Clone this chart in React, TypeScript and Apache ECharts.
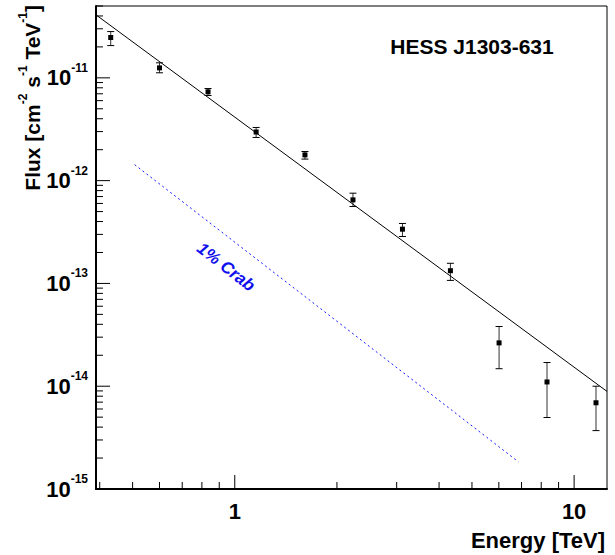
import React, { useEffect, useRef } from "react";
import * as echarts from "echarts";

// ---- data ----
const energies = [0.431, 0.60, 0.834, 1.156, 1.61, 2.23, 3.12, 4.32, 6.01, 8.32, 11.6];
const flux = [2.47e-11, 1.25e-11, 7.31e-12, 2.98e-12, 1.78e-12, 6.5e-13, 3.37e-13, 1.33e-13, 2.64e-14, 1.1e-14, 6.9e-15];
const fluxHi = [2.82e-11, 1.4e-11, 7.87e-12, 3.29e-12, 1.92e-12, 7.55e-13, 3.83e-13, 1.57e-13, 3.81e-14, 1.7e-14, 1.0e-14];
const fluxLo = [2.06e-11, 1.12e-11, 6.73e-12, 2.63e-12, 1.62e-12, 5.6e-13, 2.86e-13, 1.07e-13, 1.48e-14, 4.96e-15, 3.7e-15];

const fitE = [0.39, 12.5];
const fitF = [4.1e-11, 8.9e-15];

const crabE = [0.507, 6.85];
const crabF = [1.43e-12, 1.84e-15];

const xMajorTicks = [1, 10];
const xMinorTicks = [0.4, 0.5, 0.6, 0.7, 0.8, 0.9, 2, 3, 4, 5, 6, 7, 8, 9];
const yMajorTicks = [1e-15, 1e-14, 1e-13, 1e-12, 1e-11];
const yMinorMultipliers = [2, 3, 4, 5, 6, 7, 8, 9];
const yMinorTicks = [
  ...yMajorTicks.flatMap((d) => yMinorMultipliers.map((m) => m * d)),
].filter((v) => v < 5e-11);

const xTickLabels = ["1", "10"];

const X_MIN = 0.39;
const X_MAX = 12.5;
const Y_MIN = 1e-15;
const Y_MAX = 5e-11;

const FONT = "'Liberation Sans', Arial, Helvetica, sans-serif";

export default function App() {
  const ref = useRef<HTMLDivElement>(null);

  useEffect(() => {
    if (!ref.current) return;
    const chart = echarts.init(ref.current, null, { renderer: "svg" });

    const isPow10 = (v: number) => {
      const l = Math.log10(v);
      return Math.abs(l - Math.round(l)) < 1e-6;
    };

    const tickSeries = (name: string, values: number[], axis: "x" | "y", len: number) => ({
      type: "custom",
      name,
      silent: true,
      clip: false,
      data: values.map((v) => (axis === "x" ? [v, Y_MIN] : [X_MIN, v])),
      renderItem: (_p: any, api: any) => {
        const p = api.coord([api.value(0), api.value(1)]);
        return {
          type: "line",
          shape:
            axis === "x"
              ? { x1: p[0], y1: p[1], x2: p[0], y2: p[1] - len }
              : { x1: p[0], y1: p[1], x2: p[0] + len, y2: p[1] },
          style: { stroke: "#000", lineWidth: 1 },
        };
      },
    });

    const option: any = {
      animation: false,
      textStyle: { fontFamily: FONT },
      grid: {
        left: 96,
        right: 8,
        top: 6,
        bottom: 66,
        containLabel: false,
        outerBoundsMode: "none",
        show: true,
        borderColor: "#000",
        borderWidth: 1,
        backgroundColor: "transparent",
      },
      xAxis: {
        type: "log",
        logBase: 10,
        min: X_MIN,
        max: X_MAX,
        axisLine: { show: true, lineStyle: { color: "#000", width: 2 } },
        axisTick: { show: false },
        minorTick: { show: false },
        splitLine: { show: false },
        axisLabel: {
          show: true,
          margin: 11,
          color: "#000",
          fontSize: 22,
          fontWeight: "bold",
          fontFamily: FONT,
          showMinLabel: true,
          showMaxLabel: true,
          hideOverlap: false,
          formatter: (v: number) => {
            if (!isPow10(v)) return "";
            const s = String(Math.round(v));
            return xTickLabels.includes(s) ? s : "";
          },
        },
      },
      yAxis: {
        type: "log",
        logBase: 10,
        min: Y_MIN,
        max: Y_MAX,
        axisLine: { show: true, lineStyle: { color: "#000", width: 2 } },
        axisTick: { show: false },
        minorTick: { show: false },
        splitLine: { show: false },
        axisLabel: {
          show: true,
          margin: 8,
          color: "#000",
          fontFamily: FONT,
          hideOverlap: false,
          formatter: (v: number) => {
            if (!isPow10(v)) return "";
            const e = Math.round(Math.log10(v));
            return `{m|10}{s|${e}}`;
          },
          rich: {
            m: { fontSize: 22, fontWeight: "bold", color: "#000", lineHeight: 32, fontFamily: FONT },
            s: { fontSize: 12, fontWeight: "bold", color: "#000", verticalAlign: "top", fontFamily: FONT },
          },
        },
      },
      series: [
        tickSeries("xMajor", xMajorTicks, "x", 14),
        tickSeries("xMinor", xMinorTicks, "x", 7),
        tickSeries("yMajor", yMajorTicks, "y", 14),
        tickSeries("yMinor", yMinorTicks, "y", 7),
        {
          type: "line",
          name: "fit",
          data: fitE.map((e, i) => [e, fitF[i]]),
          showSymbol: false,
          symbol: "none",
          lineStyle: { color: "#000", width: 1 },
          silent: true,
        },
        {
          type: "line",
          name: "1% Crab",
          data: crabE.map((e, i) => [e, crabF[i]]),
          showSymbol: false,
          symbol: "none",
          lineStyle: { color: "#1a1aff", width: 1, type: [2, 3] },
          silent: true,
        },
        {
          type: "custom",
          name: "points",
          data: energies.map((e, i) => [e, flux[i], fluxLo[i], fluxHi[i]]),
          renderItem: (_p: any, api: any) => {
            const x = api.value(0);
            const pc = api.coord([x, api.value(1)]);
            const pl = api.coord([x, api.value(2)]);
            const ph = api.coord([x, api.value(3)]);
            const cw = 3.5;
            const lineStyle = { stroke: "#333", lineWidth: 1 };
            return {
              type: "group",
              children: [
                { type: "line", shape: { x1: pc[0], y1: pl[1], x2: pc[0], y2: ph[1] }, style: lineStyle },
                { type: "line", shape: { x1: pc[0] - cw, y1: pl[1], x2: pc[0] + cw, y2: pl[1] }, style: { stroke: "#000", lineWidth: 1 } },
                { type: "line", shape: { x1: pc[0] - cw, y1: ph[1], x2: pc[0] + cw, y2: ph[1] }, style: { stroke: "#000", lineWidth: 1 } },
                { type: "rect", shape: { x: pc[0] - 2.5, y: pc[1] - 2.5, width: 5, height: 5 }, style: { fill: "#000" } },
              ],
            };
          },
        },
      ],
      graphic: [
        {
          type: "text",
          x: 472,
          y: 46,
          style: {
            text: "HESS J1303-631",
            fontSize: 21,
            fontWeight: "bold",
            fontFamily: FONT,
            fill: "#000",
            align: "center",
            verticalAlign: "middle",
          },
        },
        {
          type: "text",
          x: 605,
          y: 540,
          style: {
            text: "Energy [TeV]",
            fontSize: 22,
            fontWeight: "bold",
            fontFamily: FONT,
            fill: "#000",
            align: "right",
            verticalAlign: "middle",
          },
        },
        {
          type: "text",
          x: 226,
          y: 267,
          rotation: -0.66,
          style: {
            text: "1% Crab",
            fontSize: 17,
            fontWeight: "bold",
            fontStyle: "italic",
            fontFamily: FONT,
            fill: "#1010ee",
            align: "center",
            verticalAlign: "middle",
          },
        },
        {
          type: "text",
          x: 32,
          y: 5,
          rotation: Math.PI / 2,
          style: {
            text: "{m|Flux [cm}{s|-2}{m| s}{s|-1}{m| TeV}{s|-1}{m|]}",
            fontFamily: FONT,
            align: "right",
            verticalAlign: "middle",
            rich: {
              m: { fontSize: 21, fontWeight: "bold", fill: "#000", lineHeight: 30, fontFamily: FONT },
              s: { fontSize: 12, fontWeight: "bold", fill: "#000", verticalAlign: "top", fontFamily: FONT },
            },
          },
        },
      ],
    };

    chart.setOption(option);
    return () => chart.dispose();
  }, []);

  return (
    <div
      ref={ref}
      style={{ position: "fixed", left: 0, top: 0, width: 615, height: 555, background: "#fff" }}
    />
  );
}
